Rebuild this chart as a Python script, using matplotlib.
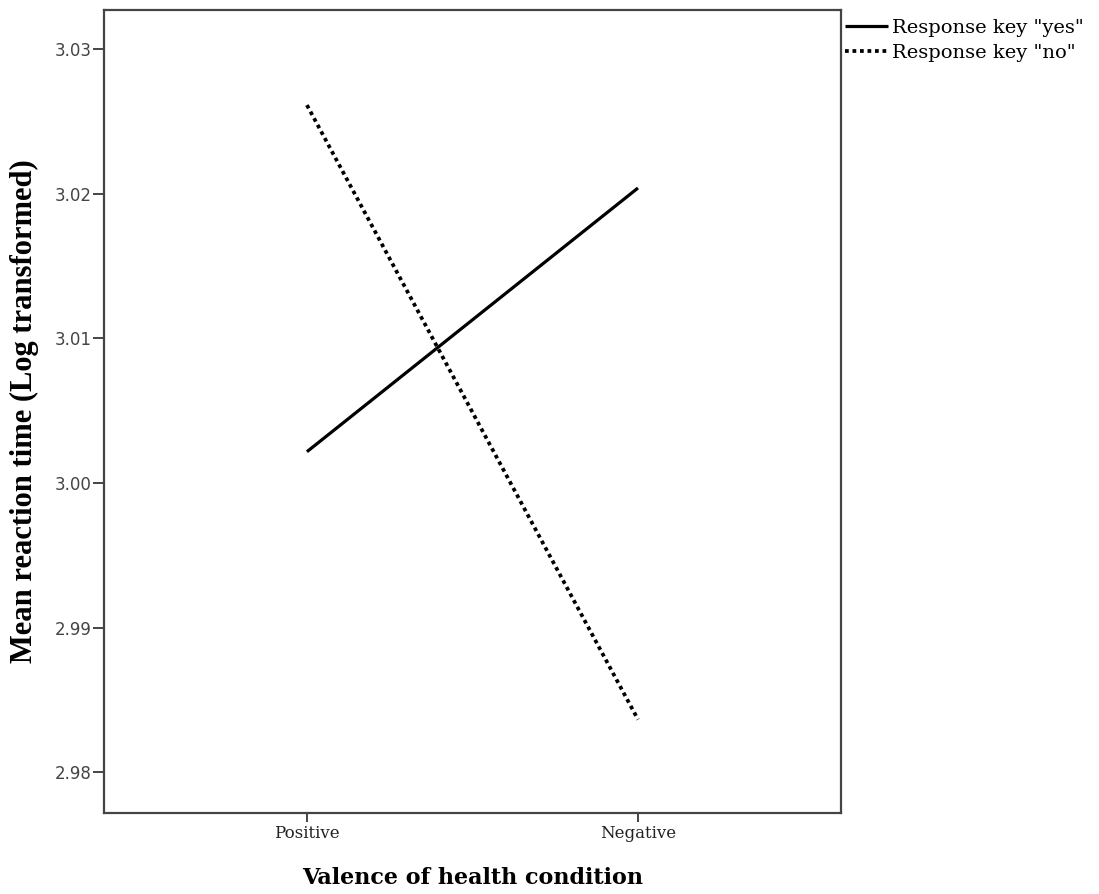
import numpy as np
import matplotlib
matplotlib.use('Agg')
from matplotlib import pyplot as plt

# data
categories = ['Positive', 'Negative']
yes_means = [3.00217, 3.0204]
no_means = [3.02613, 2.98366]
y_ticks = [2.98, 2.99, 3.00, 3.01, 3.02, 3.03]

plt.rcParams['font.family'] = ['Liberation Serif', 'DejaVu Serif']

fig = plt.figure(figsize=(10.99, 8.94), dpi=100)
ax = fig.add_axes([0.0946, 0.0906, 0.6706, 0.8982])

x = np.arange(len(categories))
ax.plot(x, yes_means, color='black', lw=2.3, solid_capstyle='butt',
        label='Response key "yes"')
ax.plot(x, no_means, color='black', lw=2.7, linestyle=(0, (1, 1)),
        label='Response key "no"')

ax.set_xlim(-0.613, 1.613)
ax.set_ylim(2.9772, 3.0327)
ax.set_xticks(x)
ax.set_xticklabels(categories, fontsize=12, family=['DejaVu Serif'], color='#222222')
ax.set_yticks(y_ticks)
ax.set_yticklabels(['%.2f' % v for v in y_ticks], fontsize=12,
                   family=['DejaVu Sans'], color='#444444')

for s in ax.spines.values():
    s.set_color('#444444')
    s.set_linewidth(1.6)
ax.tick_params(axis='y', length=8, width=1.4, color='#444444', pad=1)
ax.tick_params(axis='x', length=6.5, width=1.4, color='#444444', pad=2)

ax.set_xlabel('Valence of health condition', fontsize=16, fontweight='bold',
              family=['DejaVu Serif'], labelpad=18)
ax.set_ylabel('Mean reaction time (Log transformed)', fontsize=22, fontweight='bold', labelpad=11)

leg = ax.legend(loc='upper left', bbox_to_anchor=(1.0, 0.994), frameon=False,
                prop={'family': ['DejaVu Serif'], 'size': 14},
                handlelength=2.2, handletextpad=0.25,
                borderaxespad=0.0, borderpad=0.2, labelspacing=0.35)

fig.savefig('out.png', dpi=100)
